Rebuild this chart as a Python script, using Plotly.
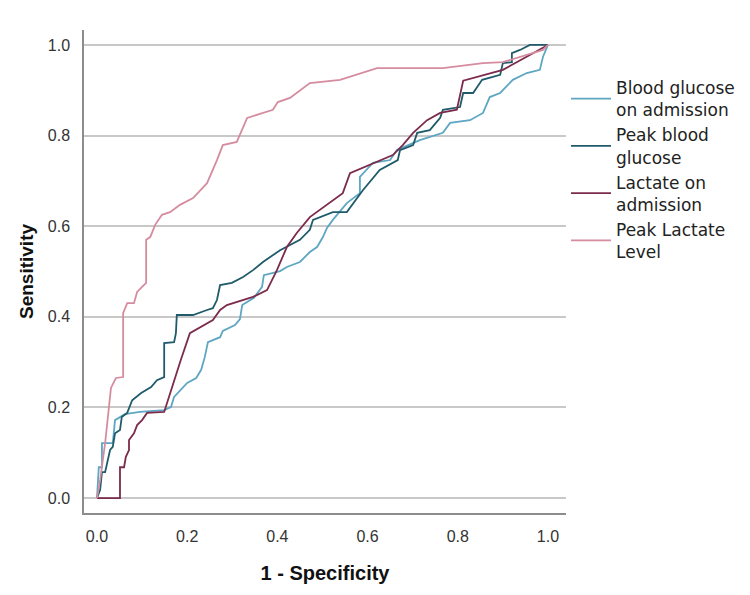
import plotly.graph_objects as go

# ---- data ----
series_names = [
    "Blood glucose<br>on admission",
    "Peak blood<br>glucose",
    "Lactate on<br>admission",
    "Peak Lactate<br>Level",
]
series_colors = ["#5ea6c2", "#1f5b6a", "#7b2b4b", "#d58c9f"]

bg_adm_x = [0, 0.004, 0.011, 0.011, 0.035, 0.04, 0.062, 0.095, 0.149, 0.164, 0.171, 0.186, 0.2, 0.22,
            0.231, 0.239, 0.246, 0.273, 0.279, 0.306, 0.317, 0.322, 0.348, 0.366, 0.37, 0.406, 0.421,
            0.45, 0.472, 0.488, 0.501, 0.51, 0.523, 0.554, 0.583, 0.583, 0.612, 0.65, 0.665, 0.716,
            0.767, 0.783, 0.827, 0.856, 0.871, 0.894, 0.922, 0.953, 0.982, 0.989, 1.0]
bg_adm_y = [0, 0.068, 0.068, 0.121, 0.121, 0.172, 0.185, 0.19, 0.194, 0.201, 0.223, 0.238, 0.254, 0.265,
            0.283, 0.311, 0.344, 0.355, 0.369, 0.382, 0.395, 0.426, 0.442, 0.466, 0.492, 0.501, 0.51,
            0.521, 0.543, 0.554, 0.576, 0.596, 0.614, 0.651, 0.673, 0.709, 0.74, 0.746, 0.768, 0.79,
            0.806, 0.828, 0.834, 0.85, 0.885, 0.894, 0.923, 0.938, 0.945, 0.974, 1.0]

bg_peak_x = [0, 0.007, 0.011, 0.018, 0.029, 0.035, 0.04, 0.051, 0.055, 0.067, 0.078, 0.098, 0.12, 0.133,
             0.149, 0.149, 0.171, 0.175, 0.177, 0.213, 0.244, 0.257, 0.266, 0.273, 0.299, 0.324, 0.346,
             0.368, 0.406, 0.45, 0.472, 0.479, 0.523, 0.554, 0.59, 0.627, 0.667, 0.672, 0.701, 0.71,
             0.738, 0.761, 0.767, 0.805, 0.812, 0.834, 0.854, 0.894, 0.9, 0.92, 0.92, 0.938, 0.96, 1.0]
bg_peak_y = [0, 0.018, 0.057, 0.057, 0.106, 0.113, 0.143, 0.15, 0.179, 0.188, 0.216, 0.232, 0.245, 0.26,
             0.267, 0.342, 0.344, 0.364, 0.404, 0.404, 0.415, 0.419, 0.437, 0.47, 0.475, 0.488, 0.503,
             0.521, 0.547, 0.57, 0.592, 0.614, 0.631, 0.631, 0.68, 0.724, 0.746, 0.768, 0.779, 0.806,
             0.812, 0.839, 0.857, 0.863, 0.894, 0.894, 0.923, 0.934, 0.96, 0.962, 0.982, 0.989, 1.0, 1.0]

lac_adm_x = [0, 0.051, 0.051, 0.06, 0.064, 0.071, 0.071, 0.082, 0.089, 0.1, 0.111, 0.149, 0.186, 0.206,
             0.257, 0.273, 0.288, 0.346, 0.377, 0.399, 0.421, 0.443, 0.472, 0.545, 0.561, 0.621, 0.656,
             0.678, 0.701, 0.732, 0.761, 0.798, 0.812, 0.9, 1.0]
lac_adm_y = [0, 0, 0.068, 0.068, 0.091, 0.106, 0.128, 0.143, 0.161, 0.172, 0.188, 0.19, 0.305, 0.364,
             0.393, 0.415, 0.426, 0.444, 0.459, 0.503, 0.554, 0.585, 0.62, 0.673, 0.717, 0.742, 0.757,
             0.779, 0.806, 0.834, 0.85, 0.857, 0.921, 0.945, 1.0]

lac_peak_x = [0, 0.007, 0.018, 0.031, 0.042, 0.058, 0.058, 0.067, 0.082, 0.089, 0.1, 0.109, 0.109, 0.118,
              0.129, 0.144, 0.162, 0.184, 0.213, 0.244, 0.266, 0.279, 0.31, 0.333, 0.39, 0.401, 0.428,
              0.472, 0.539, 0.621, 0.767, 0.856, 0.9, 0.989, 1.0]
lac_peak_y = [0, 0.04, 0.121, 0.243, 0.265, 0.267, 0.408, 0.43, 0.43, 0.455, 0.466, 0.475, 0.57, 0.576,
              0.603, 0.625, 0.631, 0.647, 0.662, 0.695, 0.746, 0.779, 0.786, 0.839, 0.857, 0.874, 0.883,
              0.916, 0.923, 0.949, 0.949, 0.96, 0.962, 0.989, 1.0]

tick_vals = [0.0, 0.2, 0.4, 0.6, 0.8, 1.0]
tick_text = ["0.0", "0.2", "0.4", "0.6", "0.8", "1.0"]

xs = [bg_adm_x, bg_peak_x, lac_adm_x, lac_peak_x]
ys = [bg_adm_y, bg_peak_y, lac_adm_y, lac_peak_y]

fig = go.Figure()
for name, color, x, y in zip(series_names, series_colors, xs, ys):
    fig.add_trace(go.Scatter(x=x, y=y, mode="lines", name=name,
                             line=dict(color=color, width=1.8)))

FONT = "Liberation Sans, Arial, sans-serif"
fig.update_layout(
    width=750, height=595,
    margin=dict(l=84, r=184, t=30, b=82, autoexpand=False),
    paper_bgcolor="white", plot_bgcolor="white",
    font=dict(family=FONT, color="#222222", size=16),
    showlegend=True,
    legend=dict(x=1.0, xanchor="left", y=0.917, yanchor="top",
                font=dict(family="DejaVu Sans, sans-serif", size=17, color="#222222"),
                bgcolor="rgba(0,0,0,0)", itemwidth=40, tracegroupgap=0),
    xaxis=dict(range=[-0.0288, 1.04], tickvals=tick_vals, ticktext=tick_text,
               showgrid=False, zeroline=False, showline=True, linecolor="#8c8c8c",
               linewidth=1.5, ticks="", ticklabelstandoff=8,
               tickfont=dict(size=16, color="#333333"),
               title=dict(text="<b>1 - Specificity</b>", standoff=22,
                          font=dict(size=20, color="#111111"))),
    yaxis=dict(range=[-0.033, 1.033], tickvals=tick_vals, ticktext=tick_text,
               showgrid=True, gridcolor="#c8c8c8", gridwidth=1.5, zeroline=False,
               showline=True, linecolor="#8c8c8c", linewidth=1.5, ticks="",
               ticklabelstandoff=9, tickfont=dict(size=16, color="#333333"),
               title=dict(text="<b>Sensitivity</b>", standoff=9,
                          font=dict(size=19, color="#111111"))),
)

fig.write_html("out.html")
